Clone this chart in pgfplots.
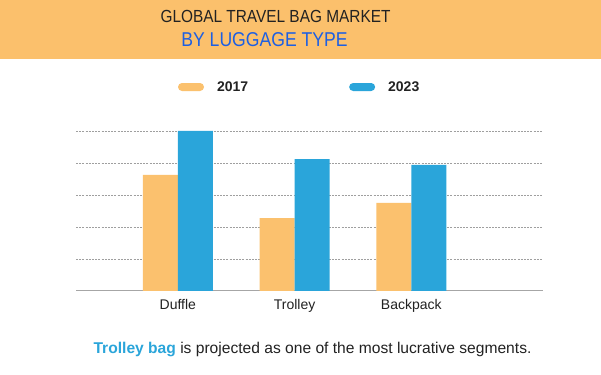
\documentclass[border=0pt]{standalone}
\usepackage{pgfplots}
\pgfplotsset{compat=1.18}
\usepackage{fontspec}
\setmainfont{Liberation Sans}
\newfontfamily\narrowfont[FakeStretch=0.88]{Liberation Sans}
\definecolor{band}{HTML}{FBC06C}
\definecolor{corange}{HTML}{FBC16E}
\definecolor{cblue}{HTML}{2AA5DA}
\definecolor{tblue}{HTML}{1D5FE3}
\definecolor{txt}{HTML}{222222}
\begin{document}
\begin{tikzpicture}[x=1pt,y=1pt]
\fill[white] (0,0) rectangle (601,374);
\fill[band] (0,315) rectangle (601,374);
\node[text=txt,font=\narrowfont\fontsize{17.5}{20}\selectfont] at (275.5,358) {GLOBAL TRAVEL BAG MARKET};
\node[text=tblue,font=\narrowfont\fontsize{20}{24}\selectfont] at (264.5,334) {BY LUGGAGE TYPE};
\begin{axis}[
  at={(76pt,83pt)}, anchor=south west,
  scale only axis, width=467pt, height=160pt,
  ybar=0pt, bar width=35pt,
  xmin=-0.872, xmax=3.128, ymin=0, ymax=5,
  xtick={0,1,2}, xticklabels={Duffle,Trolley,Backpack},
  ytick={1,2,3,4,5}, yticklabels={},
  major tick length=0pt,
  axis x line*=bottom, axis y line*=left,
  y axis line style={draw=none},
  x axis line style={gray!70, line width=1pt, -},
  ymajorgrids, grid style={gray!75, dash pattern=on 2pt off 1.2pt, line width=0.8pt},
  xticklabel style={font=\fontsize{14}{16}\selectfont, text=txt, yshift=-5pt},
  legend columns=2,
  legend style={draw=none, fill=none, at={(0.2116,1.275)}, anchor=west,
    font=\bfseries\fontsize{14}{16}\selectfont, text=txt,
    nodes={inner sep=0pt},
    /tikz/every odd column/.append style={column sep=13pt},
    /tikz/every even column/.append style={column sep=101pt}},
  legend image code/.code={\fill[#1, rounded corners=4pt] (0pt,-4pt) rectangle (26pt,4pt);},
]
\addplot[fill=corange, draw=none] coordinates {(0,3.63) (1,2.28) (2,2.75)};
\addplot[fill=cblue, draw=none] coordinates {(0,5.0) (1,4.12) (2,3.94)};
\legend{2017,2023}
\end{axis}
\node[text=txt,font=\fontsize{15.6}{18}\selectfont] at (312.5,24) {\textcolor{cblue}{\textbf{Trolley bag}} is projected as one of the most lucrative segments.};
\end{tikzpicture}
\end{document}
